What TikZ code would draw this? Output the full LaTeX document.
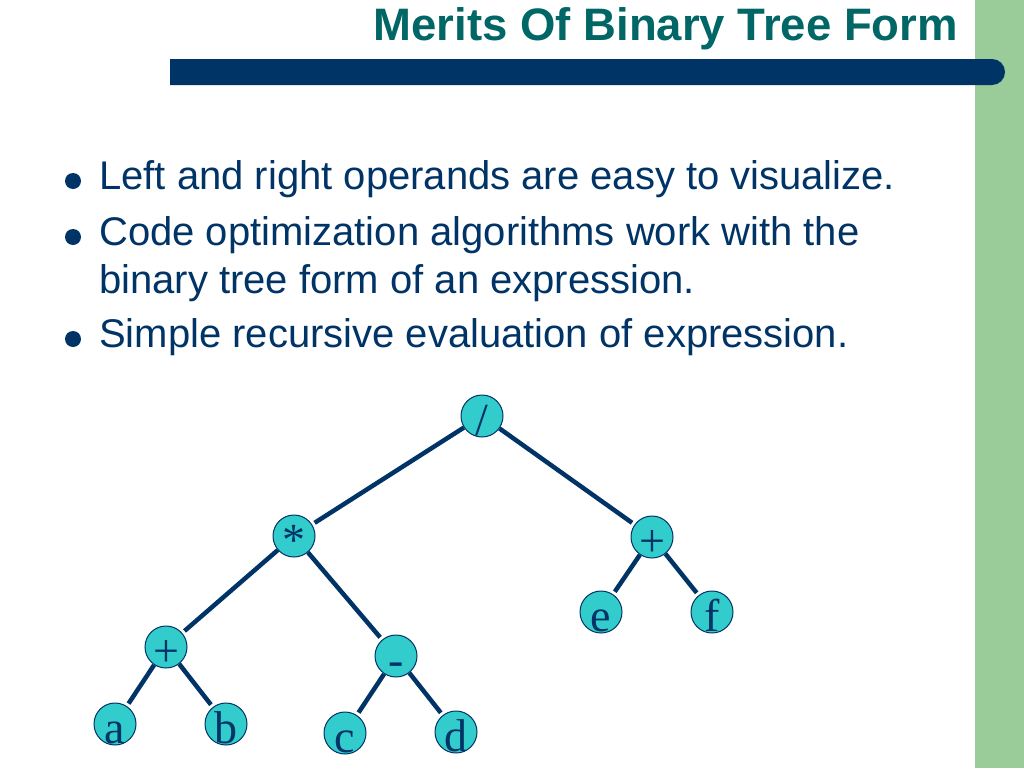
\documentclass[tikz,border=0pt]{standalone}
\usepackage{fontspec}
\setmainfont{Liberation Sans}
\newfontfamily\nodefont{Liberation Serif}
\definecolor{navy}{HTML}{003366}
\definecolor{titleteal}{HTML}{006666}
\definecolor{stripe}{HTML}{99CC99}
\definecolor{nodefill}{HTML}{33CCCC}
\begin{document}
\begin{tikzpicture}[x=1pt,y=-1pt,
  tnode/.style={circle,draw=navy,line width=1pt,fill=nodefill,minimum size=42pt,inner sep=0pt},
  tlab/.style={anchor=base,inner sep=0pt,font=\nodefont\fontsize{46}{46}\selectfont,text=navy},
  edge/.style={draw=navy,line width=4.5pt,shorten >=3pt},
  btext/.style={anchor=base west,inner sep=0pt,font=\fontsize{40}{48}\selectfont,text=navy,align=left},
  bdot/.style={circle,fill=navy,minimum size=16pt,inner sep=0pt}]
\useasboundingbox (0,0) rectangle (1024,768);
\fill[white] (0,0) rectangle (1024,768);
% green stripe
\fill[stripe] (975,0) rectangle (1024,768);
% title bar
\fill[navy] (170,59) -- (992,59) arc[start angle=90,end angle=-90,radius=13pt] -- (170,85) -- cycle;
% title
\node[anchor=base east,inner sep=0pt,font=\bfseries\fontsize{45.5}{45.5}\selectfont,text=titleteal] (title) at (958,41) {Merits Of Binary Tree Form};
% bullets
\node[bdot] (d1) at (73,181) {};
\node[btext] (t1) at (99,189) {Left and right operands are easy to visualize.};
\node[bdot] (d2) at (73,237) {};
\node[btext] (t2) at (99,245) {Code optimization algorithms work with the};
\node[btext] (t2b) at (99,293) {binary tree form of an expression.};
\node[bdot] (d3) at (73,339) {};
\node[btext] (t3) at (99,347) {Simple recursive evaluation of expression.};
% tree nodes
\node[tnode] (div) at (482,416) {};
\node[tnode] (mul) at (294,536) {};
\node[tnode] (pr) at (652,537) {};
\node[tnode] (e) at (601,612) {};
\node[tnode] (f) at (712,612) {};
\node[tnode] (pl) at (166,647) {};
\node[tnode] (mi) at (396,656) {};
\node[tnode] (a) at (115,724) {};
\node[tnode] (b) at (226,724) {};
\node[tnode] (c) at (345,733) {};
\node[tnode] (d) at (456,732) {};
% edges
\draw[edge] (div) -- (mul);
\draw[edge] (div) -- (pr);
\draw[edge] (mul) -- (pl);
\draw[edge] (mul) -- (mi);
\draw[edge] (pl) -- (a);
\draw[edge] (pl) -- (b);
\draw[edge] (mi) -- (c);
\draw[edge] (mi) -- (d);
\draw[edge] (pr) -- (e);
\draw[edge] (pr) -- (f);
% labels
\node[tlab] (ldiv) at ([yshift=-19pt]div.center) {/};
\node[tlab] (lmul) at ([yshift=-19pt]mul.center) {*};
\node[tlab] (lpr) at ([yshift=-19pt]pr.center) {+};
\node[tlab] (le) at ([yshift=-19pt]e.center) {e};
\node[tlab] (lf) at ([yshift=-19pt]f.center) {f};
\node[tlab] (lpl) at ([yshift=-19pt]pl.center) {+};
\node[tlab] (lmi) at ([yshift=-19pt]mi.center) {-};
\node[tlab] (la) at ([yshift=-19pt]a.center) {a};
\node[tlab] (lb) at ([yshift=-19pt]b.center) {b};
\node[tlab] (lc) at ([yshift=-19pt]c.center) {c};
\node[tlab] (ld) at ([yshift=-19pt]d.center) {d};
\end{tikzpicture}
\end{document}
